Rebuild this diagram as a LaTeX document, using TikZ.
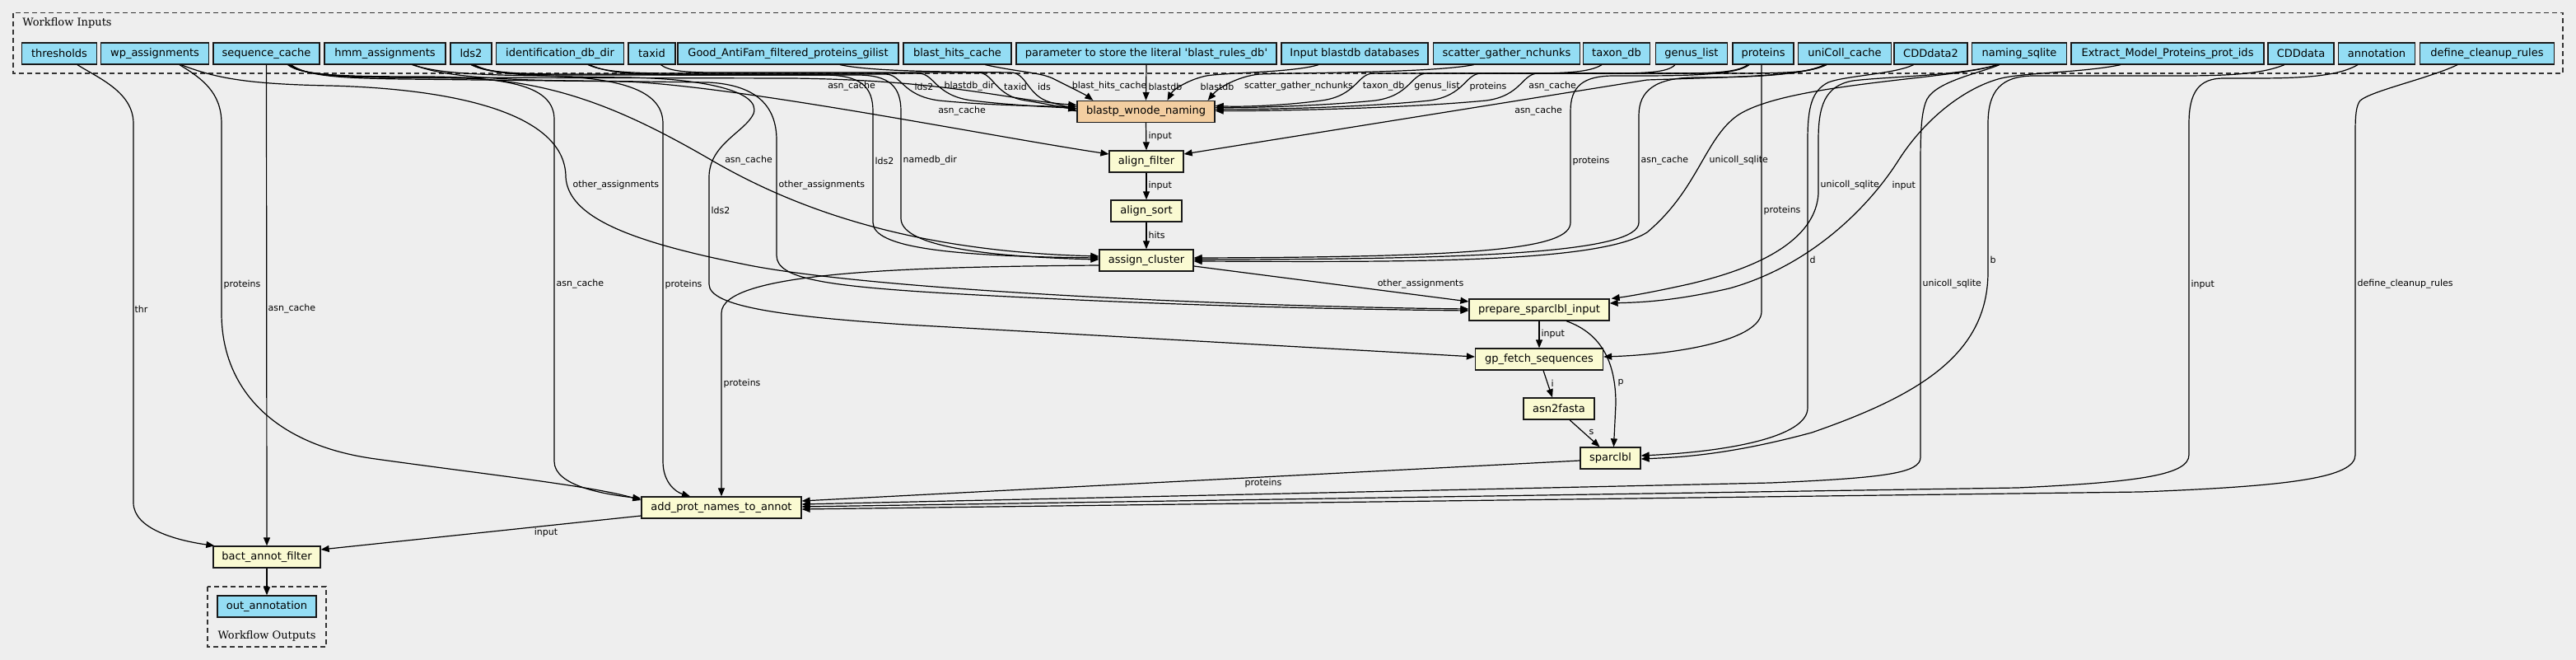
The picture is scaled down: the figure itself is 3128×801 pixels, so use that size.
\documentclass[tikz,border=0pt]{standalone}
\usepackage{fontspec}
\setmainfont{DejaVu Sans}
\newfontfamily\grpfont{DejaVu Serif}
\usetikzlibrary{arrows.meta,calc}
\definecolor{bgc}{HTML}{EEEEEE}
\definecolor{inpc}{HTML}{94DDF4}
\definecolor{stpc}{HTML}{FAFAD2}
\definecolor{subc}{HTML}{F3CEA1}
\begin{document}
\begin{tikzpicture}[x=0.5pt,y=-0.5pt,
  box/.style={draw=black!90, line width=0.65pt, minimum height=13pt, inner sep=0pt, font=\fontsize{6.5}{7.8}\selectfont},
  inp/.style={box, fill=inpc},
  stp/.style={box, fill=stpc},
  sub/.style={box, fill=subc},
  wd/.style={minimum width=#1*0.5pt},
  conn/.style={draw=black, line width=0.6pt, -{Triangle[length=5pt,width=4pt]}},
  lab/.style={font=\fontsize{5.5}{6.6}\selectfont, inner sep=0.5pt},
  labw/.style={lab, anchor=west},
  grp/.style={draw=black!80, line width=0.7pt, dash pattern=on 3pt off 2pt},
  grptitle/.style={font=\grpfont\fontsize{6.5}{7.8}\selectfont, inner sep=0pt}]
\fill[bgc] (0,0) rectangle (3128,801);
\useasboundingbox (0,0) rectangle (3128,801);
% groups
\draw[grp] (16,15.7) rectangle (3112,89);
\node[grptitle, anchor=west] (ingrp) at (27,28) {Workflow Inputs};
\draw[grp] (252,712) rectangle (396,785);
\node[grptitle] (outgrp) at (324,772) {Workflow Outputs};
% inputs
\node[inp,wd=91] (thresholds) at (72,65) {thresholds};
\node[inp,wd=131] (wpa) at (188,65) {wp\_assignments};
\node[inp,wd=129] (seqc) at (323.5,65) {sequence\_cache};
\node[inp,wd=147] (hmma) at (467.5,65) {hmm\_assignments};
\node[inp,wd=50] (ldsii) at (572,65) {lds2};
\node[inp,wd=155] (iddb) at (680,65) {identification\_db\_dir};
\node[inp,wd=57] (taxid) at (791.5,65) {taxid};
\node[inp,wd=268] (goodaf) at (957,65) {Good\_AntiFam\_filtered\_proteins\_gilist};
\node[inp,wd=131] (bhc) at (1162.5,65) {blast\_hits\_cache};
\node[inp,wd=316] (param) at (1392,65) {parameter to store the literal \textquotesingle blast\_rules\_db\textquotesingle};
\node[inp,wd=178] (inblast) at (1645,65) {Input blastdb databases};
\node[inp,wd=178] (scatter) at (1829.5,65) {scatter\_gather\_nchunks};
\node[inp,wd=81] (taxondb) at (1963,65) {taxon\_db};
\node[inp,wd=87.5] (genus) at (2054,65) {genus\_list};
\node[inp,wd=74] (prot) at (2141,65) {proteins};
\node[inp,wd=112.5] (unicoll) at (2240,65) {uniColl\_cache};
\node[inp,wd=89] (cddii) at (2344.5,65) {CDDdata2};
\node[inp,wd=115] (naming) at (2452,65) {naming\_sqlite};
\node[inp,wd=234] (extract) at (2632,65) {Extract\_Model\_Proteins\_prot\_ids};
\node[inp,wd=80] (cdd) at (2794,65) {CDDdata};
\node[inp,wd=92.5] (annot) at (2886,65) {annotation};
\node[inp,wd=163] (cleanup) at (3020,65) {define\_cleanup\_rules};
% steps
\node[sub,wd=167] (blastp) at (1391.5,135.5) {blastp\_wnode\_naming};
\node[stp,wd=90] (afilter) at (1392,196) {align\_filter};
\node[stp,wd=86] (asort) at (1392,256) {align\_sort};
\node[stp,wd=114] (acluster) at (1392,316) {assign\_cluster};
\node[stp,wd=170] (prepsp) at (1869,376) {prepare\_sparclbl\_input};
\node[stp,wd=155] (gpfetch) at (1869,436) {gp\_fetch\_sequences};
\node[stp,wd=86] (asnfa) at (1893,496) {asn2fasta};
\node[stp,wd=73] (sparc) at (1955.5,556) {sparclbl};
\node[stp,wd=194] (addprot) at (876,616) {add\_prot\_names\_to\_annot};
\node[stp,wd=130] (bactf) at (324,676) {bact\_annot\_filter};
\node[inp,wd=120] (outann) at (324,736) {out\_annotation};
% edges
\draw[conn] ($(thresholds.south)+(22,0)$) .. controls (120,95) and (162,112) .. (162,150) -- (162,610) .. controls (162,642) and (215,656) .. ($(bactf.north west)+(2,0)$) node[labw] at (162,375) {thr};
\draw[conn] ($(wpa.south)+(30,0)$) .. controls (245,95) and (269,112) .. (269,150) -- (269,380) .. controls (269,470) and (330,540) .. (456,557) .. controls (600,577) and (720,590) .. ($(addprot.west)+(0,-9)$) node[labw] at (270,345) {proteins};
\draw[conn] (seqc.south) -- (bactf.north) node[labw] at (324,375) {asn\_cache};
\draw[conn] ($(seqc.south)+(28,0)$) .. controls (368,90) and (400,94) .. (480,94) -- (960,95) .. controls (1150,97) and (1230,122) .. ($(blastp.west)+(0,-8)$) node[lab] at (1034,105) {asn\_cache};
\draw[conn] ($(seqc.south)+(30,0)$) .. controls (372,92) and (410,95) .. (490,96) -- (760,99) .. controls (900,105) and (1200,165) .. ($(afilter.west)+(0,-9)$) node[lab] at (1168,135) {asn\_cache};
\draw[conn] ($(seqc.south)+(26,0)$) .. controls (366,92) and (420,94) .. (560,95) .. controls (680,97) and (770,140) .. (865,195) .. controls (960,250) and (1100,305) .. ($(acluster.west)+(0,-5)$) node[lab] at (909,195) {asn\_cache};
\draw[conn] ($(seqc.south)+(27,0)$) .. controls (367,92) and (420,93) .. (520,93) .. controls (620,94) and (673,105) .. (673,145) -- (673,560) .. controls (673,590) and (735,600) .. ($(addprot.west)+(0,-11)$) node[labw] at (674,345) {asn\_cache};
\draw[conn] (ldsii.south) .. controls (590,88) and (630,90) .. (690,90) -- (1075,90) .. controls (1095,90) and (1095,116) .. (1140,122) .. controls (1200,128) and (1270,129) .. ($(blastp.west)+(0,-6)$) node[lab] at (1122,105) {lds2};
\draw[conn] ($(ldsii.south)+(2,0)$) .. controls (592,90) and (640,91) .. (700,91) -- (1000,91) .. controls (1045,91) and (1060,105) .. (1060,135) -- (1060,270) .. controls (1060,300) and (1150,311) .. ($(acluster.west)+(0,-3)$) node[labw] at (1061,195) {lds2};
\draw[conn] ($(ldsii.south)+(4,0)$) .. controls (600,92) and (660,93) .. (760,94) .. controls (850,95) and (925,110) .. (915,138) .. controls (905,160) and (861,175) .. (861,215) -- (861,345) .. controls (861,372) and (950,384) .. (1100,394) -- ($(gpfetch.west)+(0,-3)$) node[labw] at (862,255) {lds2};
\draw[conn] ($(iddb.south)+(34,0)$) .. controls (735,88) and (770,89) .. (830,89) -- (1115,89) .. controls (1135,89) and (1135,116) .. (1180,122) .. controls (1230,128) and (1280,130) .. ($(blastp.west)+(0,-4)$) node[lab] at (1177,105) {blastdb\_dir};
\draw[conn] ($(iddb.south)+(36,0)$) .. controls (740,90) and (780,91) .. (850,91) -- (1040,91) .. controls (1080,91) and (1094,105) .. (1094,135) -- (1094,265) .. controls (1094,296) and (1180,311) .. ($(acluster.west)+(0,-1)$) node[labw] at (1095,195) {namedb\_dir};
\draw[conn] ($(taxid.south)+(11,0)$) .. controls (812,86) and (830,88) .. (870,88) -- (1187,88) .. controls (1207,88) and (1207,116) .. (1245,122) .. controls (1270,126) and (1290,130) .. ($(blastp.west)+(0,-2)$) node[lab] at (1233,105) {taxid};
\draw[conn] ($(goodaf.south)+(63,0)$) .. controls (1060,87) and (1150,87) .. (1227,88) .. controls (1247,88) and (1247,116) .. (1275,124) .. controls (1290,128) and (1300,131) .. (blastp.west) node[lab] at (1268,105) {ids};
\draw[conn] ($(bhc.south)+(34,0)$) .. controls (1240,88) and (1265,88) .. (1280,96) .. controls (1300,106) and (1318,115) .. ($(blastp.north west)+(20,0)$) node[lab] at (1347,105) {blast\_hits\_cache};
\draw[conn] (param.south) -- (blastp.north) node[labw] at (1393,105) {blastdb};
\draw[conn] ($(inblast.south)+(-44,0)$) .. controls (1570,88) and (1490,88) .. (1465,92) .. controls (1445,96) and (1425,108) .. ($(blastp.north)+(26,0)$) node[lab] at (1478,105) {blastdb};
\draw[conn] ($(scatter.south)+(-40,0)$) .. controls (1740,88) and (1600,88) .. (1530,90) .. controls (1505,92) and (1480,106) .. ($(blastp.north east)+(-9,0)$) node[lab] at (1577,105) {scatter\_gather\_nchunks};
\draw[conn] ($(taxondb.south)+(-18,0)$) .. controls (1930,88) and (1900,89) .. (1850,89) -- (1668,89) .. controls (1648,89) and (1648,116) .. (1605,122) .. controls (1560,128) and (1510,130) .. ($(blastp.east)+(0,-7)$) node[lab] at (1680,105) {taxon\_db};
\draw[conn] ($(genus.south)+(-20,0)$) .. controls (2025,88) and (2000,89) .. (1950,89) -- (1733,89) .. controls (1713,89) and (1713,116) .. (1670,122) .. controls (1600,129) and (1510,131) .. ($(blastp.east)+(0,-5)$) node[lab] at (1745,105) {genus\_list};
\draw[conn] ($(prot.south)+(-19,0)$) .. controls (2110,88) and (2080,89) .. (2030,89) -- (1799,89) .. controls (1779,89) and (1779,116) .. (1736,122) .. controls (1650,131) and (1520,133) .. ($(blastp.east)+(0,-3)$) node[lab] at (1807,105) {proteins};
\draw[conn] ($(unicoll.south)+(-25,0)$) .. controls (2200,88) and (2170,89) .. (2100,89) -- (1868,89) .. controls (1848,89) and (1848,116) .. (1805,122) .. controls (1700,132) and (1530,135) .. ($(blastp.east)+(0,-1)$) node[lab] at (1885,105) {asn\_cache};
\draw[conn] (blastp.south) -- (afilter.north) node[labw] at (1393,165) {input};
\draw[conn] ($(unicoll.south)+(-22,0)$) .. controls (2190,92) and (2120,93) .. (2000,97) -- ($(afilter.east)+(0,-9)$) node[lab] at (1868,135) {asn\_cache};
\draw[conn] (afilter.south) -- (asort.north) node[labw] at (1393,225) {input};
\draw[conn] (asort.south) -- (acluster.north) node[labw] at (1393,285) {hits};
\draw[conn] ($(prot.south)+(-17,0)$) .. controls (2110,90) and (2060,92) .. (1990,92) -- (1960,92) .. controls (1922,92) and (1907,105) .. (1907,135) -- (1907,270) .. controls (1907,302) and (1800,312) .. ($(acluster.east)+(0,-3)$) node[labw] at (1908,195) {proteins};
\draw[conn] ($(unicoll.south)+(-24,0)$) .. controls (2190,90) and (2140,94) .. (2060,94) .. controls (2010,94) and (1990,110) .. (1990,140) -- (1990,270) .. controls (1990,306) and (1800,315) .. ($(acluster.east)+(0,-1)$) node[labw] at (1991,195) {asn\_cache};
\draw[conn] ($(naming.south)+(-28,0)$) .. controls (2380,96) and (2170,100) .. (2110,140) .. controls (2070,168) and (2062,230) .. (2000,282) .. controls (1940,320) and (1700,318) .. ($(acluster.east)+(0,1)$) node[labw] at (2074,195) {unicoll\_sqlite};
\draw[conn] ($(acluster.east)+(0,7)$) -- ($(prepsp.west)+(0,-10)$) node[lab] at (1725,345) {other\_assignments};
\draw[conn] ($(wpa.south)+(32,0)$) .. controls (262,95) and (300,102) .. (400,104) .. controls (560,108) and (687,140) .. (687,215) .. controls (690,262) and (760,292) .. (900,320) .. controls (1050,352) and (1500,372) .. ($(prepsp.west)+(0,-1)$) node[labw] at (694,225) {other\_assignments};
\draw[conn] ($(hmma.south)+(35,0)$) .. controls (530,90) and (580,97) .. (700,98) -- (860,100) .. controls (920,103) and (943,130) .. (943,170) -- (943,310) .. controls (943,338) and (1000,347) .. (1150,356) .. controls (1400,370) and (1600,375) .. ($(prepsp.west)+(0,1)$) node[labw] at (944,225) {other\_assignments};
\draw[conn] ($(naming.south)+(-26,0)$) .. controls (2380,92) and (2290,93) .. (2250,98) .. controls (2215,104) and (2208,130) .. (2208,170) -- (2208,235) .. controls (2205,285) and (2150,322) .. (2050,345) .. controls (2000,356) and (1975,360) .. ($(prepsp.north east)+(2,0)$) node[labw] at (2209,225) {unicoll\_sqlite};
\draw[conn] ($(extract.south)+(-57,0)$) .. controls (2530,88) and (2460,88) .. (2430,95) .. controls (2390,105) and (2340,140) .. (2305,195) .. controls (2270,250) and (2200,322) .. (2100,350) .. controls (2030,366) and (1990,367) .. ($(prepsp.east)+(0,-8)$) node[labw] at (2296,225) {input};
\draw[conn] (prepsp.south) -- (gpfetch.north) node[labw] at (1870,405) {input};
\draw[conn] ($(prot.south)+(-2,0)$) -- (2139,378) .. controls (2139,412) and (2040,430) .. ($(gpfetch.east)+(0,-3)$) node[labw] at (2140,255) {proteins};
\draw[conn] ($(prepsp.south)+(33,0)$) .. controls (1945,405) and (1962,440) .. (1962,490) -- ($(sparc.north)+(4,0)$) node[labw] at (1963,465) {p};
\draw[conn] ($(gpfetch.south)+(5,0)$) -- ($(asnfa.north)+(-8,0)$) node[labw] at (1882,465) {i};
\draw[conn] ($(asnfa.south)+(13,0)$) -- ($(sparc.north)+(-13,0)$) node[labw] at (1928,525) {s};
\draw[conn] ($(cddii.south)+(-21,0)$) .. controls (2300,90) and (2240,92) .. (2220,100) .. controls (2200,110) and (2195,130) .. (2195,170) -- (2195,495) .. controls (2195,530) and (2100,548) .. ($(sparc.east)+(0,-3)$) node[labw] at (2196,315) {d};
\draw[conn] ($(cdd.south)+(-20,0)$) .. controls (2750,88) and (2720,92) .. (2650,92) -- (2470,92) .. controls (2430,92) and (2414,110) .. (2414,150) -- (2414,330) .. controls (2414,430) and (2330,480) .. (2200,525) .. controls (2100,552) and (2040,555) .. ($(sparc.east)+(0,1)$) node[labw] at (2415,315) {b};
\draw[conn] ($(sparc.west)+(0,3)$) -- ($(addprot.east)+(0,-8)$) node[lab] at (1534,586) {proteins};
\draw[conn] ($(naming.south)+(-24,0)$) .. controls (2400,90) and (2345,100) .. (2338,125) .. controls (2333,140) and (2332,160) .. (2332,200) -- (2332,555) .. controls (2332,574) and (2290,580) .. (2150,586) -- ($(addprot.east)+(0,-4)$) node[labw] at (2333,345) {unicoll\_sqlite};
\draw[conn] ($(annot.south)+(-23,0)$) .. controls (2840,92) and (2800,95) .. (2740,95) -- (2700,95) .. controls (2670,95) and (2658,112) .. (2658,150) -- (2658,552) .. controls (2658,576) and (2600,585) .. (2450,592) -- ($(addprot.east)+(0,-1)$) node[labw] at (2659,345) {input};
\draw[conn] ($(cleanup.south)+(-36,0)$) .. controls (2950,95) and (2880,110) .. (2866,122) .. controls (2861,128) and (2860,140) .. (2860,160) -- (2860,552) .. controls (2860,580) and (2780,590) .. (2600,597) -- ($(addprot.east)+(0,2)$) node[labw] at (2861,345) {define\_cleanup\_rules};
\draw[conn] ($(hmma.south)+(33,0)$) .. controls (530,88) and (570,91) .. (660,92) .. controls (760,94) and (805,112) .. (805,150) -- (805,560) .. controls (805,585) and (820,597) .. ($(addprot.north)+(-38,0)$) node[labw] at (806,345) {proteins};
\draw[conn] ($(acluster.west)+(0,6)$) .. controls (1100,324) and (876,330) .. (876,380) -- (addprot.north) node[labw] at (877,465) {proteins};
\draw[conn] ($(addprot.west)+(0,10)$) -- ($(bactf.east)+(0,-9)$) node[lab] at (663,646) {input};
\draw[conn] (bactf.south) -- (outann.north);
\end{tikzpicture}
\end{document}
